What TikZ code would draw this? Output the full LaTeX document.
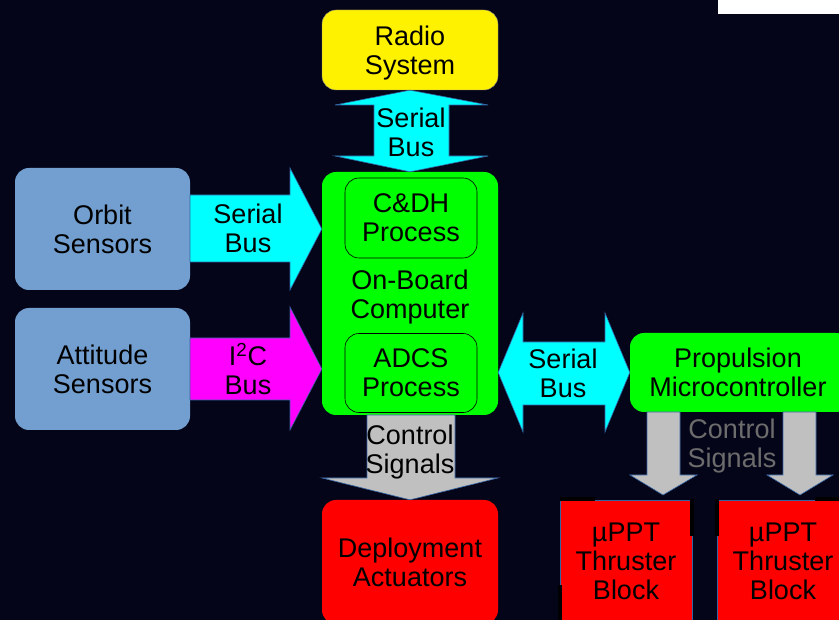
\documentclass[tikz,border=0pt]{standalone}
\usepackage{fontspec}
\setmainfont{Liberation Sans}
\usetikzlibrary{calc, positioning}

\definecolor{bgnavy}{HTML}{05051A}
\definecolor{sensorblue}{HTML}{729FCF}
\definecolor{edgeblue}{HTML}{3465A4}
\definecolor{ctrlgray}{HTML}{C0C0C0}
\definecolor{busgreen}{HTML}{00FF00}
\definecolor{buscyan}{HTML}{00FFFF}
\definecolor{busmagenta}{HTML}{FF00FF}

\tikzset{
  blocktxt/.style={font=\fontsize{27}{29}\selectfont, align=center, text=black},
  block/.style={blocktxt, rounded corners=14pt, inner sep=0pt},
  busarrow/.style={draw=edgeblue, line width=0.6pt, line join=miter},
}

\begin{document}
\begin{tikzpicture}[x=1pt, y=-1pt]
\fill[bgnavy] (0,0) rectangle (839,620);
\useasboundingbox (0,0) rectangle (839,620);
\fill[white] (718,0) rectangle (839,14);

% blocks
\node[block, fill=yellow, draw=black!50, minimum width=176pt, minimum height=80pt] (radio) at (410,50) {};
\node[blocktxt] (radiotxt) at (410,53) {Radio\\System};
\node[block, fill=busgreen, minimum width=176pt, minimum height=243pt] (obc) at (410,293.5) {};
\node[blocktxt] (obctxt) at (410,297) {On-Board\\Computer};
\node[block, draw=black, line width=0.6pt, minimum width=132pt, minimum height=80pt] (cdh) at (411,218) {C\&DH\\Process};
\node[block, draw=black, line width=0.6pt, minimum width=132pt, minimum height=79pt] (adcs) at (411,373) {ADCS\\Process};
\node[block, fill=sensorblue, minimum width=175pt, minimum height=122pt] (orbit) at (102.5,229) {Orbit\\Sensors};
\node[block, fill=sensorblue, minimum width=175pt, minimum height=122pt] (attitude) at (102.5,369) {Attitude\\Sensors};
\node[block, fill=busgreen, minimum width=220pt, minimum height=79pt] (prop) at (740,372.5) {\hspace{-4pt}Propulsion\\\hspace{-4pt}Microcontroller};
\node[block, fill=red, minimum width=176pt, minimum height=124pt] (deploy) at (410,562) {Deployment\\Actuators};
\node[blocktxt, fill=red, draw=edgeblue, line width=0.5pt, minimum width=132pt, minimum height=122pt, inner sep=0pt] (thrustA) at (626,561) {µPPT\\Thruster\\Block};
\node[blocktxt, fill=red, draw=edgeblue, line width=0.5pt, minimum width=132pt, minimum height=122pt, inner sep=0pt] (thrustB) at (783,561) {µPPT\\Thruster\\Block};

% black marks on the thruster blocks
\draw[black, line width=4pt] (560,499) -- (595,499);
\draw[black, line width=4pt] (692,499) -- (692,536);
\draw[black, line width=4pt] (560,585) -- (560,620);
\draw[black, line width=4pt] (717,499) -- (717,536);
\draw[black, line width=4pt] (815,499) -- (839,499);

% buses
\draw[busarrow, fill=buscyan] (radio.south) -- (488,105) -- (449,105) -- (449,156) -- (488,156)
  -- (obc.north) -- (335,156) -- (374,156) -- (374,105) -- (335,105) -- cycle;
\node[blocktxt] (radiobus) at (411,132) {Serial\\Bus};

\draw[busarrow, fill=buscyan] (190,195) -- (290,195) -- (290,168) -- (orbit.east -| obc.west)
  -- (290,290) -- (290,262) -- (190,262) -- cycle;
\node[blocktxt] (orbitbus) at (248,228) {Serial\\Bus};

\draw[busarrow, fill=busmagenta] (190,338) -- (290,338) -- (290,307) -- (attitude.east -| obc.west)
  -- (290,430) -- (290,400) -- (190,400) -- cycle;
\node[blocktxt] (attbus) at (248,369) {I\textsuperscript{2}C\\Bus};

\draw[busarrow, fill=buscyan] (prop.west -| obc.east) -- (523,313) -- (523,342) -- (605,342) -- (605,313)
  -- (prop.west) -- (605,432) -- (605,405) -- (523,405) -- (523,432) -- cycle;
\node[blocktxt] (propbus) at (563,373) {Serial\\Bus};

% control signals
\draw[busarrow, fill=ctrlgray] (367,415) -- (455,415) -- (455,478) -- (498,478)
  -- (deploy.north) -- (322,478) -- (367,478) -- cycle;
\node[blocktxt] (deployctl) at (410,452) {Control\\Signals};

\draw[busarrow, fill=ctrlgray] (647,412) -- (680,412) -- (680,475) -- (697,475)
  -- (663,495) -- (630,475) -- (647,475) -- cycle;
\draw[busarrow, fill=ctrlgray] (783,412) -- (816,412) -- (816,475) -- (833,475)
  -- (800,495) -- (767,475) -- (783,475) -- cycle;
\node[blocktxt, text=gray!85!black] (thrustctl) at (732,446) {Control\\Signals};

\end{tikzpicture}
\end{document}
